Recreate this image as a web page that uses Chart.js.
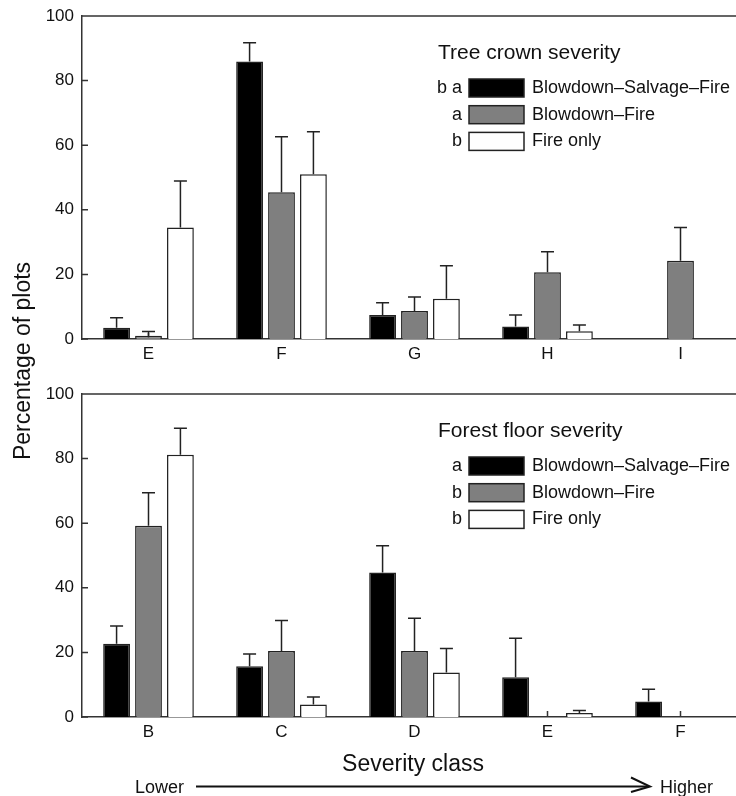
<!DOCTYPE html>
<html>
<head>
<meta charset="utf-8">
<script src="https://cdn.jsdelivr.net/npm/chart.js@4.4.0/dist/chart.umd.min.js"></script>
<style>
  body { margin: 0; width: 736px; height: 796px; overflow: hidden; background: #fff; position: relative;
         font-family: "Liberation Sans", Arial, sans-serif; }
  canvas { position: absolute; left: 0; }
  #crown { top: 0; }
  #floor { top: 378px; }
  svg { position: absolute; left: 0; top: 0; }
</style>
</head>
<body>
<canvas id="crown" width="750" height="370"></canvas>
<canvas id="floor" width="750" height="370"></canvas>
<svg width="736" height="796">
  <g font-family="Liberation Sans, Arial, sans-serif" fill="#111">
    <text x="30" y="361" font-size="23" text-anchor="middle" transform="rotate(-90 30 361)">Percentage of plots</text>
    <text x="413" y="771" font-size="23" text-anchor="middle">Severity class</text>
    <text x="135" y="793" font-size="18">Lower</text>
    <text x="660" y="793" font-size="18">Higher</text>
  </g>
  <line x1="196" y1="786.5" x2="648" y2="786.5" stroke="#111" stroke-width="2"/>
  <polyline points="631,777.5 650,786.5 631,792" fill="none" stroke="#111" stroke-width="2"/>
</svg>
<script>
// nombres de las series y colores
const seriesNames = ['Blowdown\u2013Salvage\u2013Fire', 'Blowdown\u2013Fire', 'Fire only'];
const seriesColors = ['#000000', '#7f7f7f', '#ffffff'];

// panel de arriba: severidad de copa
const crownLabels = ['E', 'F', 'G', 'H', 'I'];
const crownBSF = [3.5, 85.9, 7.4, 3.9, 0];
const crownBSFse = [3.1, 5.8, 3.8, 3.5, 0];
const crownBF = [1.0, 45.4, 8.7, 20.7, 24.2];
const crownBFse = [1.3, 17.2, 4.3, 6.3, 10.3];
const crownFO = [34.5, 51.0, 12.5, 2.4, 0];
const crownFOse = [14.4, 13.2, 10.2, 1.9, 0];
const crownLetters = ['b a', 'a', 'b'];

// panel de abajo: severidad del suelo
const floorLabels = ['B', 'C', 'D', 'E', 'F'];
const floorBSF = [22.7, 15.7, 44.7, 12.3, 4.8];
const floorBSFse = [5.5, 3.8, 8.3, 12.1, 3.8];
const floorBF = [59.2, 20.4, 20.4, 0, 0];
const floorBFse = [10.2, 9.5, 10.2, 0, 0];
const floorFO = [81.2, 3.9, 13.8, 1.2, 0];
const floorFOse = [8.2, 2.3, 7.4, 0.8, 0];
const floorLetters = ['a', 'b', 'b'];

const FONT = '"Liberation Sans", Arial, sans-serif';

// ticks hacia adentro y linea de arriba, debajo de las barras
const marcos = {
  id: 'marcos',
  beforeDatasetsDraw(chart) {
    const ctx = chart.ctx, area = chart.chartArea;
    const x = chart.scales.x, y = chart.scales.y;
    ctx.save();
    ctx.strokeStyle = '#333';
    ctx.lineWidth = 1.5;
    ctx.beginPath();
    ctx.moveTo(area.left, area.top);
    ctx.lineTo(area.right + 5, area.top);
    y.ticks.forEach(t => {
      const py = y.getPixelForValue(t.value);
      ctx.moveTo(area.left, py);
      ctx.lineTo(area.left + 6, py);
    });
    x.ticks.forEach((t, k) => {
      const px = x.getPixelForValue(k);
      ctx.moveTo(px, area.bottom);
      ctx.lineTo(px, area.bottom - 6);
    });
    ctx.stroke();
    ctx.restore();
  },
  afterDatasetsDraw(chart, args, opts) {
    const ctx = chart.ctx;
    const y = chart.scales.y;
    ctx.save();
    // barras de error (solo hacia arriba)
    ctx.strokeStyle = '#222';
    ctx.lineWidth = 1.5;
    chart.data.datasets.forEach((ds, i) => {
      chart.getDatasetMeta(i).data.forEach((bar, j) => {
        const se = ds.errors[j];
        if (!se) return;
        const y0 = y.getPixelForValue(ds.data[j]);
        const y1 = y.getPixelForValue(ds.data[j] + se);
        ctx.beginPath();
        ctx.moveTo(bar.x, y0);
        ctx.lineTo(bar.x, y1);
        ctx.moveTo(bar.x - 6.5, y1);
        ctx.lineTo(bar.x + 6.5, y1);
        ctx.stroke();
      });
    });
    // leyenda con las letras
    ctx.fillStyle = '#111';
    ctx.textBaseline = 'middle';
    ctx.textAlign = 'left';
    ctx.font = '21px ' + FONT;
    ctx.fillText(opts.title, 438, 53);
    chart.data.datasets.forEach((ds, i) => {
      const cy = 88 + i * 26.7;
      ctx.fillStyle = ds.backgroundColor;
      ctx.fillRect(469, cy - 9, 55, 18);
      ctx.strokeStyle = '#222';
      ctx.strokeRect(469, cy - 9, 55, 18);
      ctx.fillStyle = '#111';
      ctx.font = '18px ' + FONT;
      ctx.textAlign = 'right';
      ctx.fillText(opts.letters[i], 462, cy);
      ctx.textAlign = 'left';
      ctx.fillText(ds.label, 532, cy);
    });
    ctx.restore();
  }
};

const hacerDatasets = (valores, errores) => {
  return valores.map((v, i) => ({
    label: seriesNames[i],
    data: v,
    errors: errores[i],
    backgroundColor: seriesColors[i],
    borderColor: '#222',
    borderWidth: 1.5,
    categoryPercentage: 0.72,
    barPercentage: 0.84
  }));
};

const hacerGrafico = (id, labels, valores, errores, titulo, letras) => {
  return new Chart(document.getElementById(id), {
    type: 'bar',
    data: { labels: labels, datasets: hacerDatasets(valores, errores) },
    options: {
      responsive: false,
      animation: false,
      devicePixelRatio: 1,
      layout: { padding: { top: 16, right: 3, left: 0, bottom: 0 } },
      plugins: {
        legend: { display: false },
        tooltip: { enabled: false },
        marcos: { title: titulo, letters: letras }
      },
      scales: {
        x: {
          grid: { display: false },
          border: { display: true, color: '#333', width: 1.5 },
          ticks: { color: '#111', font: { size: 17, family: FONT }, padding: -3 },
          afterFit: s => { s.height = 31; }
        },
        y: {
          min: 0, max: 100,
          grid: { display: false },
          border: { display: true, color: '#333', width: 1.5 },
          ticks: { stepSize: 20, color: '#111', font: { size: 17, family: FONT }, padding: 0 },
          afterFit: s => { s.width = 82; }
        }
      }
    },
    plugins: [marcos]
  });
};

hacerGrafico('crown', crownLabels, [crownBSF, crownBF, crownFO], [crownBSFse, crownBFse, crownFOse],
  'Tree crown severity', crownLetters);
hacerGrafico('floor', floorLabels, [floorBSF, floorBF, floorFO], [floorBSFse, floorBFse, floorFOse],
  'Forest floor severity', floorLetters);
</script>
</body>
</html>
